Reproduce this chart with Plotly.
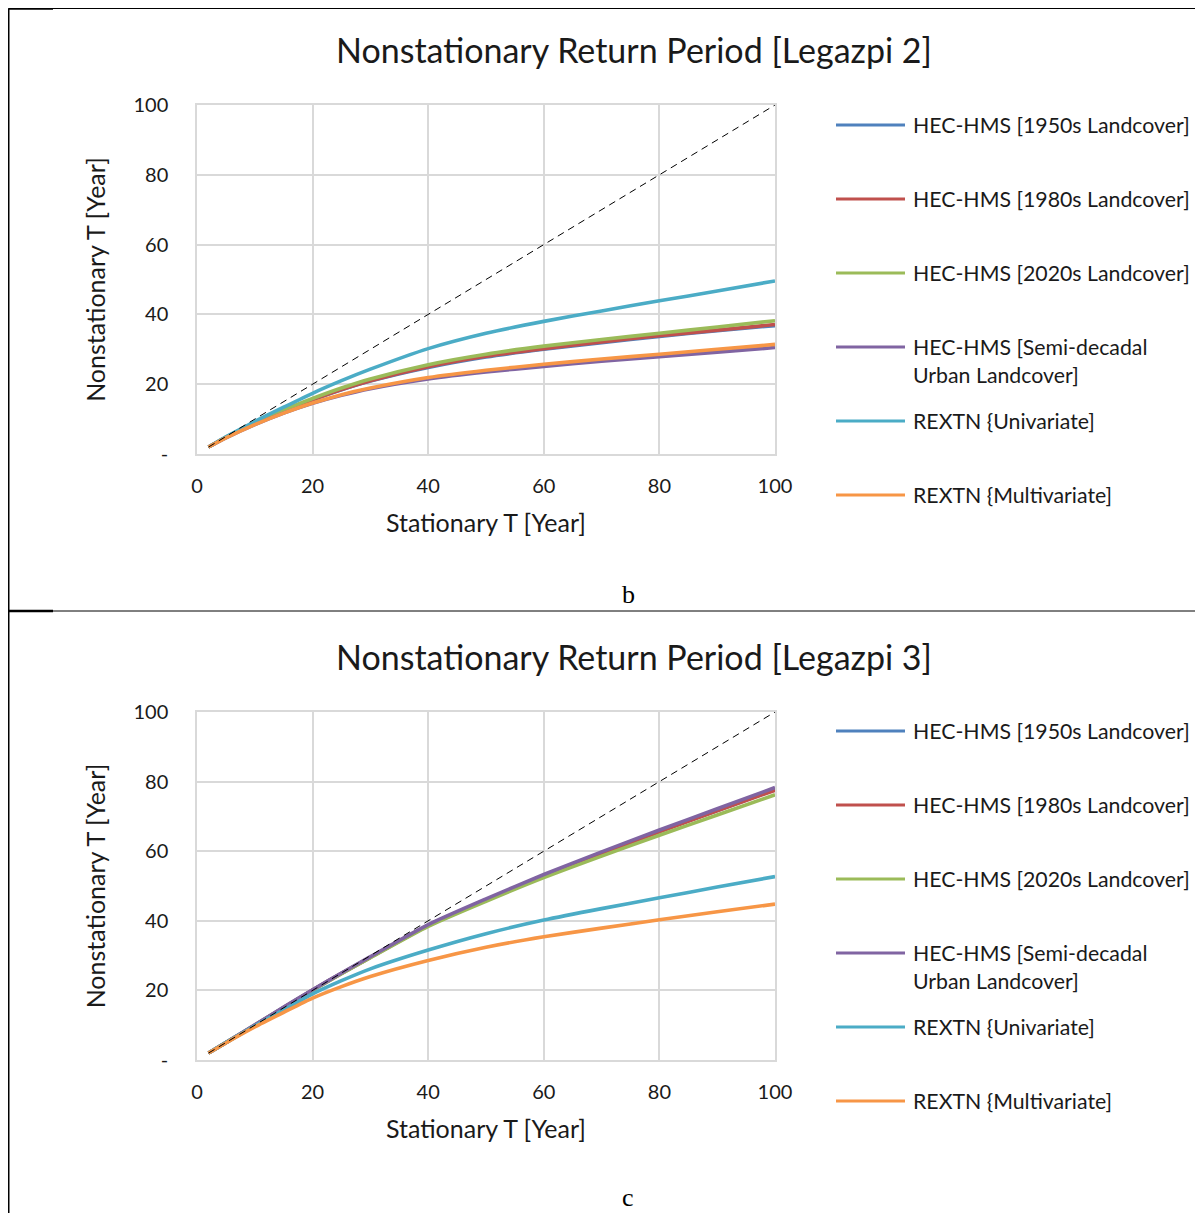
import plotly.graph_objects as go

# The page puts the figure 8px from the top-left corner of the window.
OFF = 8
W, H = 1203 - OFF, 1213 - OFF

x_vals = [2, 5, 10, 15, 20, 25, 30, 40, 50, 60, 70, 80, 90, 100]

series_names = [
    "HEC-HMS [1950s Landcover]",
    "HEC-HMS [1980s Landcover]",
    "HEC-HMS [2020s Landcover]",
    "HEC-HMS [Semi-decadal<br>Urban Landcover]",
    "REXTN {Univariate]",
    "REXTN {Multivariate]",
]
series_colors = ["#4F81BD", "#C0504D", "#9BBB59", "#8064A2", "#4BACC6", "#F79646"]

# Legazpi 2
l2_1950s = [2, 4.8, 8.8, 12.3, 15.5, 18.4, 20.9, 24.8, 27.8, 30.0, 31.9, 33.7, 35.3, 36.8]
l2_1980s = [2, 4.8, 8.8, 12.4, 15.6, 18.5, 21.0, 25.0, 28.0, 30.2, 32.1, 33.9, 35.5, 37.1]
l2_2020s = [2, 4.8, 8.9, 12.6, 15.9, 18.9, 21.5, 25.6, 28.6, 30.9, 32.8, 34.6, 36.4, 38.2]
l2_semi = [2, 4.6, 8.4, 11.7, 14.5, 16.8, 18.7, 21.5, 23.5, 25.1, 26.6, 27.9, 29.2, 30.5]
l2_uni = [2, 4.9, 9.3, 13.4, 17.4, 21.0, 24.3, 30.2, 34.6, 38.0, 41.0, 43.9, 46.7, 49.6]
l2_multi = [2, 4.6, 8.4, 11.7, 14.6, 17.0, 18.9, 21.9, 24.0, 25.7, 27.2, 28.6, 30.0, 31.4]

# Legazpi 3
l3_1950s = [2, 5.0, 10.0, 15.1, 20.1, 24.9, 29.5, 38.7, 46.0, 52.9, 59.4, 65.7, 71.7, 77.7]
l3_1980s = [2, 5.0, 10.0, 15.1, 20.1, 24.9, 29.5, 38.6, 45.9, 52.8, 59.3, 65.6, 71.6, 77.5]
l3_2020s = [2, 5.0, 10.0, 15.1, 20.0, 24.8, 29.4, 38.4, 45.6, 52.4, 58.6, 64.6, 70.4, 76.2]
l3_semi = [2, 5.0, 10.1, 15.2, 20.2, 25.0, 29.7, 38.9, 46.3, 53.3, 59.8, 66.1, 72.2, 78.3]
l3_uni = [2, 5.0, 9.8, 14.4, 19.0, 22.8, 26.2, 31.6, 36.3, 40.2, 43.5, 46.6, 49.7, 52.7]
l3_multi = [2, 4.9, 9.5, 13.7, 17.8, 21.1, 24.0, 28.6, 32.4, 35.4, 37.9, 40.3, 42.6, 44.8]

ref_x = [2, 100]
ref_y = [2, 100]

titles = ["Nonstationary Return Period [Legazpi 2]", "Nonstationary Return Period [Legazpi 3]"]
panel_letters = ["b", "c"]
x_title = "Stationary T [Year]"
y_title = "Nonstationary T [Year]"
x_ticks = [0, 20, 40, 60, 80, 100]
y_ticks = [0, 20, 40, 60, 80, 100]
y_ticktext = ["-", "20", "40", "60", "80", "100"]

panels = [
    [l2_1950s, l2_1980s, l2_2020s, l2_semi, l2_uni, l2_multi],
    [l3_1950s, l3_1980s, l3_2020s, l3_semi, l3_uni, l3_multi],
]

FONT = "Lato"
TXT = "#1a1a1a"

def px_x(p):
    return max(p - OFF, 0.5) / W

def px_y(p):
    return 1 - max(p - OFF, 0.5) / H

# plot areas in window pixels
areas = [(197, 775, 105, 454), (197, 775, 712, 1060)]

fig = go.Figure()

for i, data in enumerate(panels):
    xa = "x" if i == 0 else "x2"
    ya = "y" if i == 0 else "y2"
    for name, col, ys in zip(series_names, series_colors, data):
        fig.add_trace(go.Scatter(x=x_vals, y=ys, mode="lines", name=name.replace("<br>", " "),
                                 line=dict(color=col, width=3.6, shape="spline", smoothing=0.6),
                                 showlegend=False, xaxis=xa, yaxis=ya))
    fig.add_trace(go.Scatter(x=ref_x, y=ref_y, mode="lines", name="1:1",
                             line=dict(color="black", width=1, dash="7px,5px"),
                             showlegend=False, xaxis=xa, yaxis=ya))

axis_common = dict(range=[0, 100], showgrid=True, gridcolor="#D9D9D9", gridwidth=1.5,
                   zeroline=False, showline=True, linecolor="#D9D9D9", linewidth=1.5,
                   mirror=True, ticks="", tickfont=dict(family=FONT, size=20, color=TXT),
                   automargin=False, fixedrange=True)

layout = dict(width=W, height=H, margin=dict(l=0, r=0, t=0, b=0),
              paper_bgcolor="white", plot_bgcolor="white", showlegend=False)

for i, (x0, x1, y0, y1) in enumerate(areas):
    sfx = "" if i == 0 else "2"
    layout["xaxis" + sfx] = dict(axis_common, domain=[px_x(x0), px_x(x1)], anchor="y" + sfx,
                                 tickvals=x_ticks, ticklabelstandoff=13,
                                 title=dict(text=x_title, font=dict(family=FONT, size=25, color=TXT), standoff=19))
    layout["yaxis" + sfx] = dict(axis_common, domain=[px_y(y1), px_y(y0)], anchor="x" + sfx,
                                 tickvals=y_ticks, ticktext=y_ticktext, ticklabelstandoff=23,
                                 title=dict(text=y_title, font=dict(family=FONT, size=25, color=TXT), standoff=21))

fig.update_layout(**layout)

annotations = []
shapes = []
title_y = [50, 656]
letter_y = [594, 1197]
legend_y0 = [125, 731]
for i in range(2):
    annotations.append(dict(text=titles[i], x=px_x(634), y=px_y(title_y[i]), xref="paper", yref="paper",
                            showarrow=False, xanchor="center", yanchor="middle",
                            font=dict(family=FONT, size=34, color=TXT)))
    annotations.append(dict(text=panel_letters[i], x=px_x(628), y=px_y(letter_y[i]), xref="paper", yref="paper",
                            showarrow=False, xanchor="center", yanchor="middle",
                            font=dict(family="Liberation Serif", size=26, color="black")))
    for k, (name, col) in enumerate(zip(series_names, series_colors)):
        yy = legend_y0[i] + 74 * k
        shapes.append(dict(type="line", xref="paper", yref="paper", x0=px_x(836), x1=px_x(905),
                           y0=px_y(yy), y1=px_y(yy), line=dict(color=col, width=3)))
        annotations.append(dict(text=name, x=px_x(911), y=px_y(yy - 15), xref="paper", yref="paper",
                                showarrow=False, xanchor="left", yanchor="top", align="left",
                                font=dict(family=FONT, size=21.3, color=TXT)))

# page frame lines (window pixels)
frame = [
    (5, 5, 1203, 5, 1), (5, 5, 53, 5, 2.5), (7, 5, 7, 1213, 2),
    (8, 611, 1203, 611, 1), (8, 611, 53, 611, 2.5),
]
for (a, b, c, d, w) in frame:
    shapes.append(dict(type="line", xref="paper", yref="paper", x0=px_x(a), y0=px_y(b), x1=px_x(c), y1=px_y(d),
                       line=dict(color="black", width=w)))

fig.update_layout(annotations=annotations, shapes=shapes)
fig.write_html("out.html")
